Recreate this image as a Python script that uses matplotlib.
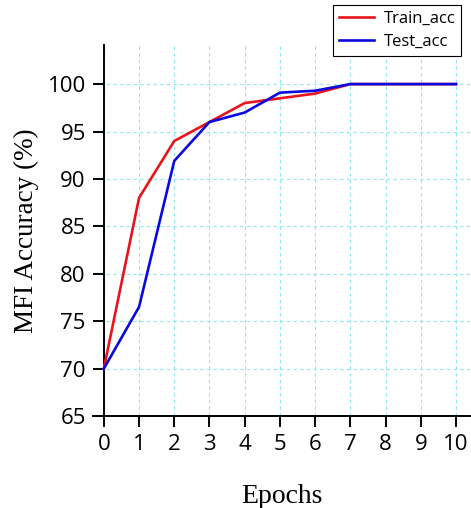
import matplotlib
matplotlib.use("Agg")
import matplotlib.pyplot as plt

epochs = [0, 1, 2, 3, 4, 5, 6, 7, 8, 9, 10]
train_acc = [70, 88, 94, 96, 98, 98.5, 99, 100, 100, 100, 100]
test_acc = [70, 76.5, 91.9, 96, 97, 99.1, 99.3, 100, 100, 100, 100]
xticks = list(range(0, 11))
yticks = [65, 70, 75, 80, 85, 90, 95, 100]

fig = plt.figure(figsize=(4.71, 5.08), dpi=100)
ax = fig.add_axes([0.198, 0.181, 0.80, 0.73])

ax.plot(epochs, train_acc, color="#e8141c", lw=1.9, label="Train_acc", zorder=3)
ax.plot(epochs, test_acc, color="#0a0ae0", lw=1.9, label="Test_acc", zorder=4)

ax.set_xlim(-0.3, 10.4)
ax.set_ylim(65, 104.1)
ax.set_xticks(xticks)
ax.set_yticks(yticks)
ax.spines["left"].set_position(("data", 0))
ax.spines["right"].set_visible(False)
ax.spines["top"].set_visible(False)
for s in ("left", "bottom"):
    ax.spines[s].set_linewidth(1.4)
ax.tick_params(direction="out", length=8, width=1.4, labelsize=16, pad=5)
for lab in ax.get_xticklabels() + ax.get_yticklabels():
    lab.set_family("Open Sans")

ax.grid(True, color="#8ee8f0", linestyle=(0, (3, 3)), linewidth=0.8)
ax.set_axisbelow(True)

ax.set_xlabel("Epochs", family="Liberation Serif", fontsize=20, labelpad=21)
ax.set_ylabel("MFI Accuracy (%)", family="Liberation Serif", fontsize=19.5, labelpad=6)

leg = fig.legend(loc="upper right", bbox_to_anchor=(0.979, 0.991), frameon=True,
                 fancybox=False, edgecolor="black", framealpha=1,
                 prop={"family": "Open Sans", "size": 12}, handlelength=2.1,
                 borderpad=0.35, labelspacing=0.45, handletextpad=0.6,
                 borderaxespad=0)
leg.get_frame().set_linewidth(0.8)

fig.savefig("out.png", dpi=100)
